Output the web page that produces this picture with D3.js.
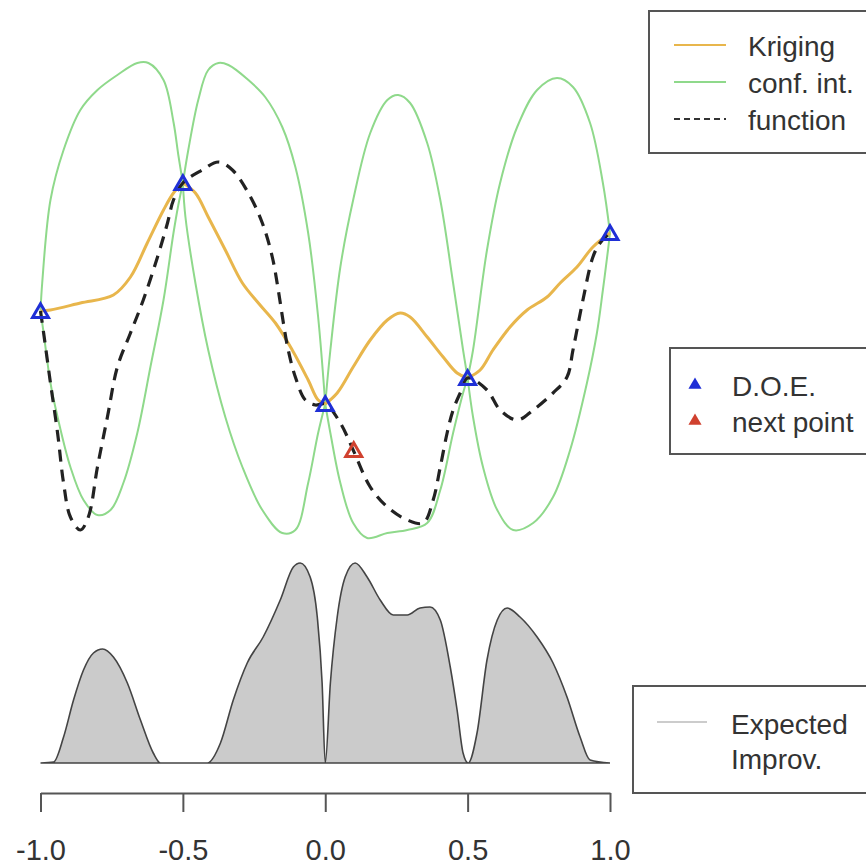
<!DOCTYPE html>
<html>
<head>
<meta charset="utf-8">
<script src="https://cdn.jsdelivr.net/npm/d3@7"></script>
<style>
  body { margin: 0; background: #fff; }
  text { font-family: "Liberation Sans", Arial, sans-serif; fill: #333; }
</style>
</head>
<body>
<div id="chart"></div>
<script>
// design of experiments + next point
const doeX = [-1, -0.5, 0, 0.5, 1]
const doeY = [-0.11, 1.17, -1.04, -0.78, 0.67]
const nextX = [0.1]
const nextY = [-1.5]

// kriging mean [x, y]
const kriging = [[-1,-0.11],[-0.965,-0.10],[-0.86,-0.03],[-0.744,0.05],[-0.684,0.23],[-0.625,0.57],[-0.568,0.90],[-0.533,1.07],[-0.5,1.17],
  [-0.456,1.07],[-0.411,0.83],[-0.351,0.50],[-0.291,0.17],[-0.235,-0.03],[-0.175,-0.23],[-0.116,-0.50],[-0.06,-0.80],[-0.025,-1.00],[0,-1.04],
  [0.042,-0.93],[0.098,-0.67],[0.158,-0.40],[0.218,-0.20],[0.263,-0.13],[0.298,-0.17],[0.358,-0.37],[0.414,-0.57],[0.463,-0.73],[0.5,-0.78],
  [0.544,-0.70],[0.589,-0.50],[0.649,-0.27],[0.709,-0.10],[0.779,0.03],[0.825,0.17],[0.884,0.33],[0.94,0.53],[1,0.67]]

// upper / lower confidence bounds
const ciUpper = [[-1,-0.11],[-0.994,0.17],[-0.965,1.00],[-0.919,1.50],[-0.86,1.90],[-0.8,2.10],[-0.73,2.25],[-0.66,2.37],[-0.621,2.37],[-0.568,2.20],[-0.533,1.78],[-0.516,1.45],[-0.5,1.17],
  [-0.481,1.50],[-0.446,2.00],[-0.411,2.30],[-0.375,2.37],[-0.34,2.35],[-0.27,2.20],[-0.211,2.03],[-0.151,1.73],[-0.105,1.33],[-0.06,0.67],[-0.025,-0.17],[0,-1.04],
  [0.018,-0.50],[0.053,0.33],[0.098,1.00],[0.158,1.67],[0.218,2.00],[0.256,2.05],[0.298,1.97],[0.358,1.57],[0.404,1.00],[0.449,0.17],[0.484,-0.50],[0.5,-0.78],
  [0.519,-0.50],[0.568,0.50],[0.614,1.17],[0.674,1.73],[0.744,2.10],[0.814,2.22],[0.87,2.13],[0.93,1.77],[0.975,1.17],[1,0.67]]
const ciLower = [[-1,-0.11],[-0.989,-0.33],[-0.965,-0.83],[-0.94,-1.17],[-0.895,-1.67],[-0.849,-2.00],[-0.8,-2.15],[-0.754,-2.10],[-0.709,-1.83],[-0.66,-1.33],[-0.614,-0.67],[-0.568,0.00],[-0.533,0.67],[-0.516,0.95],[-0.5,1.17],
  [-0.491,0.83],[-0.456,0.17],[-0.411,-0.50],[-0.351,-1.17],[-0.291,-1.67],[-0.221,-2.10],[-0.151,-2.33],[-0.105,-2.30],[-0.06,-1.83],[-0.025,-1.33],[0,-1.04],
  [0.018,-1.33],[0.053,-1.83],[0.098,-2.23],[0.147,-2.38],[0.218,-2.33],[0.288,-2.30],[0.358,-2.23],[0.404,-1.90],[0.449,-1.33],[0.484,-0.93],[0.5,-0.78],
  [0.519,-1.17],[0.554,-1.67],[0.604,-2.10],[0.66,-2.30],[0.73,-2.23],[0.8,-1.97],[0.86,-1.50],[0.919,-0.83],[0.954,-0.33],[0.975,0.10],[0.993,0.50],[1,0.67]]

// true function
const func = [[-1,-0.11],[-0.989,-0.33],[-0.965,-0.83],[-0.94,-1.33],[-0.919,-1.83],[-0.895,-2.17],[-0.86,-2.30],[-0.832,-2.17],[-0.8,-1.67],[-0.765,-1.17],[-0.73,-0.67],[-0.684,-0.33],[-0.639,0.00],[-0.589,0.43],[-0.554,0.77],[-0.533,1.00],[-0.5,1.17],
  [-0.432,1.30],[-0.375,1.38],[-0.326,1.30],[-0.27,1.07],[-0.221,0.77],[-0.186,0.43],[-0.165,0.10],[-0.147,-0.23],[-0.13,-0.50],[-0.105,-0.77],[-0.07,-1.00],[-0.035,-1.05],[0,-1.04],
  [0.053,-1.23],[0.098,-1.50],[0.158,-1.87],[0.218,-2.07],[0.288,-2.20],[0.344,-2.23],[0.379,-2.00],[0.404,-1.67],[0.428,-1.33],[0.449,-1.10],[0.474,-0.93],[0.5,-0.78],
  [0.568,-0.90],[0.614,-1.10],[0.674,-1.20],[0.73,-1.10],[0.8,-0.93],[0.849,-0.77],[0.87,-0.50],[0.905,0.00],[0.94,0.43],[0.965,0.57],[1,0.67]]

// expected improvement
const ei = [[-1,0],[-0.954,0.005],[-0.919,0.13],[-0.884,0.315],[-0.849,0.465],[-0.814,0.55],[-0.782,0.57],[-0.744,0.53],[-0.695,0.40],[-0.649,0.215],[-0.604,0.05],[-0.579,0],
  [-0.414,0],[-0.368,0.10],[-0.323,0.315],[-0.274,0.50],[-0.218,0.63],[-0.158,0.815],[-0.112,0.98],[-0.088,1.0],[-0.053,0.93],[-0.028,0.73],[-0.011,0.40],[0,0],
  [0.018,0.40],[0.042,0.73],[0.07,0.93],[0.105,1.0],[0.147,0.93],[0.193,0.815],[0.239,0.74],[0.288,0.74],[0.333,0.775],[0.368,0.78],[0.404,0.715],[0.439,0.48],[0.463,0.265],[0.484,0.05],[0.502,0],
  [0.533,0.15],[0.568,0.515],[0.604,0.715],[0.639,0.775],[0.684,0.73],[0.744,0.63],[0.8,0.50],[0.849,0.33],[0.895,0.13],[0.93,0.015],[1,0]]

const xTicks = [-1, -0.5, 0, 0.5, 1]
const legendTop = ["Kriging", "conf. int.", "function"]
const legendMid = ["D.O.E.", "next point"]
const legendBot = ["Expected", "Improv."]

const w = 866
const h = 867

const orange = "#e8b64c"
const green = "#8fd98b"
const blue = "#1f2fd6"
const red = "#d0412f"

var svg = d3.select("#chart").append("svg")
    .attr("width", w).attr("height", h)

var x = d3.scaleLinear().domain([-1, 1]).range([40.5, 610])
var y = d3.scaleLinear().domain([-3, 3]).range([600, 0])
var yEI = d3.scaleLinear().domain([0, 1]).range([763, 563])

var line = d3.line()
    .x(function(d) { return x(d[0]) })
    .y(function(d) { return y(d[1]) })
    .curve(d3.curveCatmullRom.alpha(0.5))

// split a curve at the design points so the kinks stay sharp
function pieces(data) {
    var out = []
    for (var i = 0; i < doeX.length - 1; i++) {
        out.push(data.filter(function(d) { return d[0] >= doeX[i] && d[0] <= doeX[i + 1] }))
    }
    return out
}

// EI area
var area = d3.area()
    .x(function(d) { return x(d[0]) })
    .y0(yEI(0))
    .y1(function(d) { return yEI(d[1]) })
    .curve(d3.curveMonotoneX)

svg.append("path").datum(ei)
    .attr("d", area)
    .attr("fill", "#cbcbcb")
    .attr("stroke", "#444")
    .attr("stroke-width", 1.6)

// confidence interval
svg.selectAll(".ci").data(pieces(ciUpper).concat(pieces(ciLower)))
    .enter().append("path")
    .attr("class", "ci")
    .attr("d", line)
    .attr("fill", "none")
    .attr("stroke", green)
    .attr("stroke-width", 2)

// kriging
svg.selectAll(".krig").data(pieces(kriging))
    .enter().append("path")
    .attr("class", "krig")
    .attr("d", line)
    .attr("fill", "none")
    .attr("stroke", orange)
    .attr("stroke-width", 3)

// function
svg.append("path").datum(func)
    .attr("d", line)
    .attr("fill", "none")
    .attr("stroke", "#222")
    .attr("stroke-width", 3.2)
    .attr("stroke-dasharray", "12,8")

var tri = d3.symbol().type(d3.symbolTriangle).size(110)

svg.selectAll(".doe").data(doeX)
    .enter().append("path")
    .attr("class", "doe")
    .attr("d", tri)
    .attr("transform", function(d, i) { return "translate(" + x(d) + "," + (y(doeY[i]) + 2) + ")" })
    .attr("fill", "none")
    .attr("stroke", blue)
    .attr("stroke-width", 3)

svg.selectAll(".next").data(nextX)
    .enter().append("path")
    .attr("class", "next")
    .attr("d", tri)
    .attr("transform", function(d, i) { return "translate(" + x(d) + "," + (y(nextY[i]) + 2) + ")" })
    .attr("fill", "none")
    .attr("stroke", red)
    .attr("stroke-width", 3)

// axis
var axis = svg.append("g")
    .attr("transform", "translate(0,793)")
    .call(d3.axisBottom(x).tickValues(xTicks).tickFormat(d3.format(".1f")).tickSize(19).tickSizeOuter(0))
axis.select(".domain").attr("stroke", "#555").attr("stroke-width", 2)
axis.selectAll(".tick line").attr("stroke", "#555").attr("stroke-width", 2)
axis.selectAll(".tick text")
    .attr("y", 0).attr("dy", null)
    .attr("transform", "translate(0,67)")
    .style("font-family", "'Liberation Sans', Arial, sans-serif")
    .style("font-size", "29px")
    .attr("fill", "#333")
axis.selectAll(".tick text").text(function(d) { return d3.format(".1f")(d).replace("−", "-") })

// legends
function box(x0, y0, bh) {
    svg.append("rect")
        .attr("x", x0).attr("y", y0)
        .attr("width", 400).attr("height", bh)
        .attr("fill", "white")
        .attr("stroke", "#555")
        .attr("stroke-width", 2)
}

box(649, 11, 142)
var lstyles = [
    { c: orange, wd: 2, dash: null },
    { c: green, wd: 2, dash: null },
    { c: "#333", wd: 2, dash: "6,4" }
]
legendTop.forEach(function(t, i) {
    var ly = 45 + i * 37
    svg.append("line")
        .attr("x1", 674).attr("x2", 726).attr("y1", ly).attr("y2", ly)
        .attr("stroke", lstyles[i].c).attr("stroke-width", lstyles[i].wd)
        .attr("stroke-dasharray", lstyles[i].dash)
    svg.append("text").attr("x", 748).attr("y", ly + 11)
        .style("font-size", "28px").text(t)
})

box(670, 348, 106)
var mcols = [blue, red]
legendMid.forEach(function(t, i) {
    var ly = 385 + i * 36
    svg.append("path")
        .attr("d", d3.symbol().type(d3.symbolTriangle).size(75))
        .attr("transform", "translate(695," + ly + ")")
        .attr("fill", mcols[i])
    svg.append("text").attr("x", 732).attr("y", ly + 11)
        .style("font-size", "28px").text(t)
})

box(633, 686, 107)
svg.append("line")
    .attr("x1", 657).attr("x2", 707).attr("y1", 722).attr("y2", 722)
    .attr("stroke", "#bbb").attr("stroke-width", 1.5)
legendBot.forEach(function(t, i) {
    svg.append("text").attr("x", 731).attr("y", 734 + i * 35)
        .style("font-size", "28px").text(t)
})
</script>
</body>
</html>
